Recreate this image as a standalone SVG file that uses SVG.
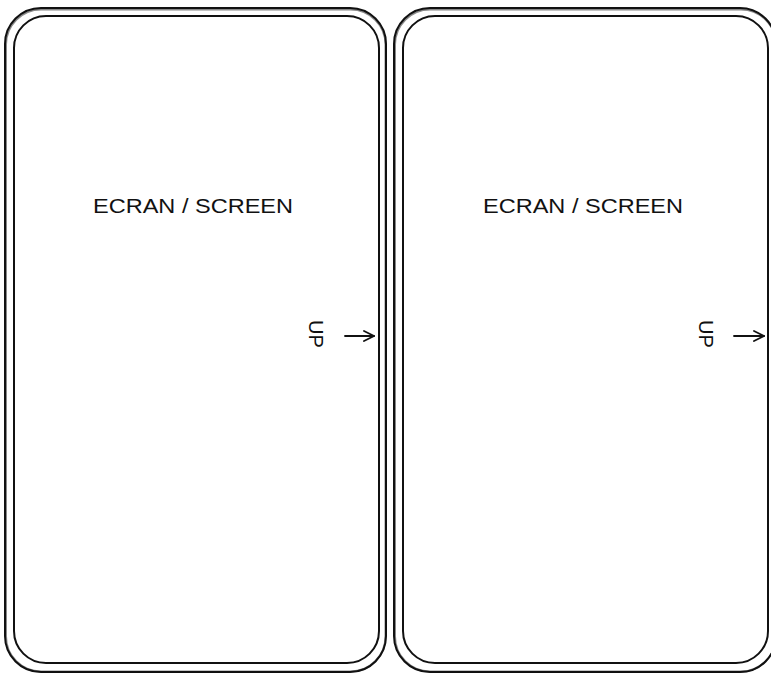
<svg xmlns="http://www.w3.org/2000/svg" width="771" height="675" viewBox="0 0 771 675">
<style>
.o{fill:none;stroke:#111;stroke-width:2;stroke-linecap:round}
.t{font-family:"Liberation Sans",Arial,sans-serif;font-size:20px;fill:#111}
.c{fill:none;stroke:#111;stroke-width:1.8;stroke-linecap:round;stroke-linejoin:round}
</style>
<defs>
<marker id="ah" viewBox="0 0 12 12" refX="11" refY="6" markerWidth="12" markerHeight="12" markerUnits="userSpaceOnUse" orient="auto">
<path d="M1,1 L11,6 L1,11" fill="none" stroke="#111" stroke-width="1.8" stroke-linecap="round"/>
</marker>
</defs>
<rect width="771" height="675" fill="#fff"/>
<g id="phone-left">
<rect class="o" x="5" y="8" width="381" height="664" rx="36"/>
<rect class="o" x="6" y="9.5" width="379.5" height="662" rx="35" opacity="0.5"/>
<rect class="o" x="14" y="16" width="365" height="647" rx="32"/>
<text class="t" x="193" y="213" text-anchor="middle" textLength="200" lengthAdjust="spacingAndGlyphs">ECRAN / SCREEN</text>
<text class="t" transform="translate(309,334) rotate(90)" text-anchor="middle" font-size="18">UP</text>
</g>
<g id="phone-right">
<rect class="o" x="394" y="8" width="382" height="664" rx="36"/>
<rect class="o" x="395" y="9.5" width="381" height="662" rx="35" opacity="0.5"/>
<rect class="o" x="403" y="16" width="365" height="647" rx="32"/>
<text class="t" x="583" y="213" text-anchor="middle" textLength="200" lengthAdjust="spacingAndGlyphs">ECRAN / SCREEN</text>
<text class="t" transform="translate(699,334) rotate(90)" text-anchor="middle" font-size="18">UP</text>
</g>
<g id="connectors">
<path class="c" d="M345,336 L374,336" marker-end="url(#ah)"/>
<path class="c" d="M734,336 L764,336" marker-end="url(#ah)"/>
</g>
</svg>
